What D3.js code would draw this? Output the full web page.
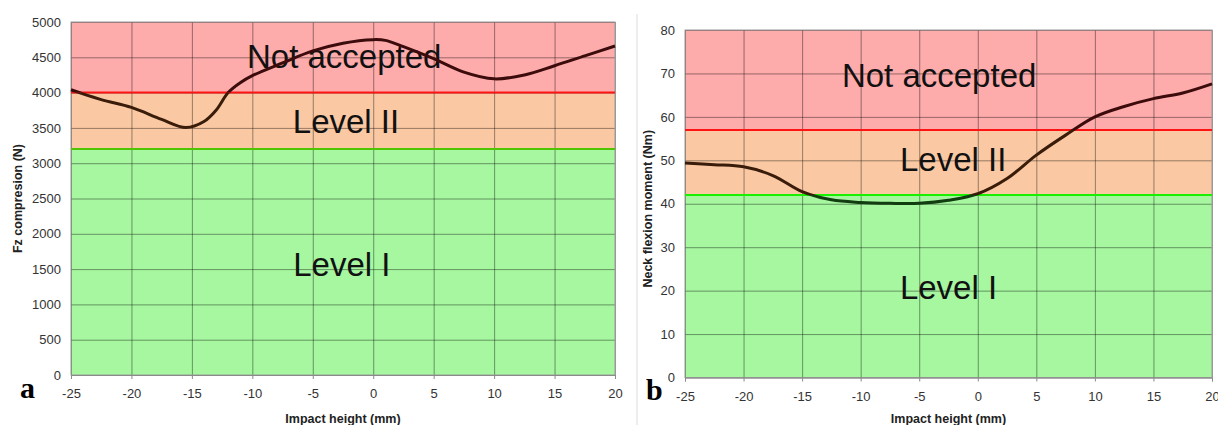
<!DOCTYPE html>
<html>
<head>
<meta charset="utf-8">
<script src="https://cdn.jsdelivr.net/npm/d3@7"></script>
<style>
  body { margin: 0; background: #fff; }
  svg { display: block; font-family: Arial, "Liberation Sans", sans-serif; }
</style>
</head>
<body>
<div id="chart"></div>
<script>
// impact height samples (mm) and readings for each panel
const fzHeights = [-25, -22.5, -20, -17.5, -15.5, -14, -13, -12, -11, -10, -7.5, -5, -2.5, 0, 1, 2.5, 5, 7.5, 10, 12.5, 15, 17.5, 20];
const fzValues  = [4040, 3900, 3790, 3620, 3505, 3590, 3750, 4000, 4140, 4240, 4420, 4590, 4700, 4750, 4740, 4650, 4480, 4290, 4195, 4250, 4380, 4520, 4660];

const nmHeights = [-25, -22.5, -20, -17.5, -15, -12.5, -10, -7.5, -5, -2.5, 0, 2.5, 5, 7.5, 10, 12.5, 15, 17.5, 20];
const nmValues  = [49.4, 49.0, 48.5, 46.5, 42.8, 40.9, 40.3, 40.1, 40.1, 40.8, 42.3, 45.8, 51.2, 55.8, 60.0, 62.4, 64.2, 65.5, 67.6];

// limits: level I upper, level II upper, axis max
const fzLimits = [3200, 4000, 5000];
const nmLimits = [42, 57, 80];

const xTicks = [-25, -20, -15, -10, -5, 0, 5, 10, 15, 20];
const fzTicks = [0, 500, 1000, 1500, 2000, 2500, 3000, 3500, 4000, 4500, 5000];
const nmTicks = [0, 10, 20, 30, 40, 50, 60, 70, 80];

const zoneNames = ["Level I", "Level II", "Not accepted"];
// label anchor points in data units [height, value] per zone
const fzLabelAt = [[-2.6, 1402], [-2.25, 3428], [-2.4, 4348]];
const nmLabelAt = [[-2.5, 18.1], [-2.1, 47.6], [-3.3, 66.9]];

const width = 1218, height = 425;

const svg = d3.select("#chart").append("svg")
  .attr("width", width)
  .attr("height", height);

// faint divider between the two panels
svg.append("line")
  .attr("x1", 637).attr("x2", 637)
  .attr("y1", 14).attr("y2", height)
  .attr("stroke", "#dcdcdc");

const panels = [
  { id: "a", left: 71, right: 615, top: 22, bottom: 375,
    xs: fzHeights, ys: fzValues, limits: fzLimits, yTicks: fzTicks,
    labels: fzLabelAt, yTitle: "Fz compresion (N)", yTitleX: 18,
    greenLine: "#4fc400", letterX: 20, letterY: 398 },
  { id: "b", left: 685, right: 1212, top: 30, bottom: 377.5,
    xs: nmHeights, ys: nmValues, limits: nmLimits, yTicks: nmTicks,
    labels: nmLabelAt, yTitle: "Neck flexion moment (Nm)", yTitleX: 648,
    greenLine: "#19f000", letterX: 646, letterY: 400 }
];

const zoneFill = ["#a6f7a0", "#fac9a3", "#fdabab"];
const zoneInk = ["#123d10", "#3a1c0a", "#3c0b0b"];
const tickFont = "Arial, 'Liberation Sans', sans-serif";

panels.forEach(p => {
  const x = d3.scaleLinear().domain([-25, 20]).range([p.left, p.right]);
  const y = d3.scaleLinear().domain([0, p.limits[2]]).range([p.bottom, p.top]);
  const g = svg.append("g");

  const bounds = [0, p.limits[0], p.limits[1], p.limits[2]];

  // coloured acceptance zones
  g.selectAll("rect.zone")
    .data(zoneFill)
    .enter()
    .append("rect")
    .attr("class", "zone")
    .attr("x", p.left)
    .attr("width", p.right - p.left)
    .attr("y", (d, i) => y(bounds[i + 1]))
    .attr("height", (d, i) => y(bounds[i]) - y(bounds[i + 1]))
    .attr("fill", d => d);

  // grid
  g.append("g")
    .attr("transform", `translate(0,${p.bottom})`)
    .call(d3.axisBottom(x).tickValues(xTicks).tickSize(-(p.bottom - p.top)).tickFormat(""))
    .call(s => s.select(".domain").remove())
    .selectAll("line").attr("stroke", "#000").attr("stroke-opacity", 0.4);

  g.append("g")
    .attr("transform", `translate(${p.left},0)`)
    .call(d3.axisLeft(y).tickValues(p.yTicks).tickSize(-(p.right - p.left)).tickFormat(""))
    .call(s => s.select(".domain").remove())
    .selectAll("line").attr("stroke", "#000").attr("stroke-opacity", 0.4);

  // plot frame
  g.append("rect")
    .attr("x", p.left).attr("y", p.top)
    .attr("width", p.right - p.left).attr("height", p.bottom - p.top)
    .attr("fill", "none").attr("stroke", "#9a9a9a").attr("stroke-width", 1);

  // limit lines
  g.append("line")
    .attr("x1", p.left).attr("x2", p.right)
    .attr("y1", y(p.limits[1])).attr("y2", y(p.limits[1]))
    .attr("stroke", "#ff1414").attr("stroke-width", 2);
  g.append("line")
    .attr("x1", p.left).attr("x2", p.right)
    .attr("y1", y(p.limits[0])).attr("y2", y(p.limits[0]))
    .attr("stroke", p.greenLine).attr("stroke-width", 2);

  // zone labels
  g.selectAll("text.zone-label")
    .data(zoneNames)
    .enter()
    .append("text")
    .attr("class", "zone-label")
    .attr("x", (d, i) => x(p.labels[i][0]))
    .attr("y", (d, i) => y(p.labels[i][1]))
    .attr("text-anchor", "middle")
    .attr("font-size", 33)
    .attr("fill", "#111")
    .text(d => d);

  // response curve, tinted per zone like the original
  const line = d3.line()
    .x((d, i) => x(p.xs[i]))
    .y(d => y(d))
    .curve(d3.curveCatmullRom.alpha(0.5));

  zoneInk.forEach((ink, i) => {
    const clipId = `clip-${p.id}-${i}`;
    const top = i === 2 ? 0 : y(bounds[i + 1]);
    const bottom = i === 0 ? height : y(bounds[i]);
    g.append("clipPath").attr("id", clipId)
      .append("rect")
      .attr("x", p.left - 2)
      .attr("width", p.right - p.left + 4)
      .attr("y", top)
      .attr("height", bottom - top);
    g.append("path")
      .datum(p.ys)
      .attr("clip-path", `url(#${clipId})`)
      .attr("fill", "none")
      .attr("stroke", ink)
      .attr("stroke-width", 3)
      .attr("stroke-linejoin", "round")
      .attr("d", line);
  });

  // axes
  const xAxis = g.append("g")
    .attr("transform", `translate(0,${p.bottom})`)
    .call(d3.axisBottom(x).tickValues(xTicks).tickSize(4).tickPadding(10).tickFormat(d => `${d}`));
  xAxis.select(".domain").attr("stroke", "#8a8a8a");
  xAxis.selectAll("line").attr("stroke", "#8a8a8a");
  xAxis.selectAll("text").attr("font-size", 13).attr("fill", "#333").attr("font-family", tickFont);

  const yAxis = g.append("g")
    .attr("transform", `translate(${p.left},0)`)
    .call(d3.axisLeft(y).tickValues(p.yTicks).tickSize(0).tickPadding(10).tickFormat(d => `${d}`));
  yAxis.select(".domain").remove();
  yAxis.selectAll("text").attr("font-size", 13).attr("fill", "#333").attr("font-family", tickFont);

  // axis titles
  g.append("text")
    .attr("transform", `translate(${p.yTitleX},${(p.top + p.bottom) / 2 + (p.id === "a" ? 0 : 5)}) rotate(-90)`)
    .attr("text-anchor", "middle")
    .attr("dy", "0.35em")
    .attr("font-size", 12.5)
    .attr("font-weight", "bold")
    .attr("fill", "#222")
    .text(p.yTitle);

  g.append("text")
    .attr("x", (p.left + p.right) / 2)
    .attr("y", 423)
    .attr("text-anchor", "middle")
    .attr("font-size", 12.5)
    .attr("font-weight", "bold")
    .attr("fill", "#222")
    .text("Impact height (mm)");

  // panel letter
  g.append("text")
    .attr("x", p.letterX)
    .attr("y", p.letterY)
    .attr("font-family", "'Liberation Serif', 'Times New Roman', serif")
    .attr("font-weight", "bold")
    .attr("font-size", 30)
    .attr("fill", "#000")
    .text(p.id);
});
</script>
</body>
</html>
